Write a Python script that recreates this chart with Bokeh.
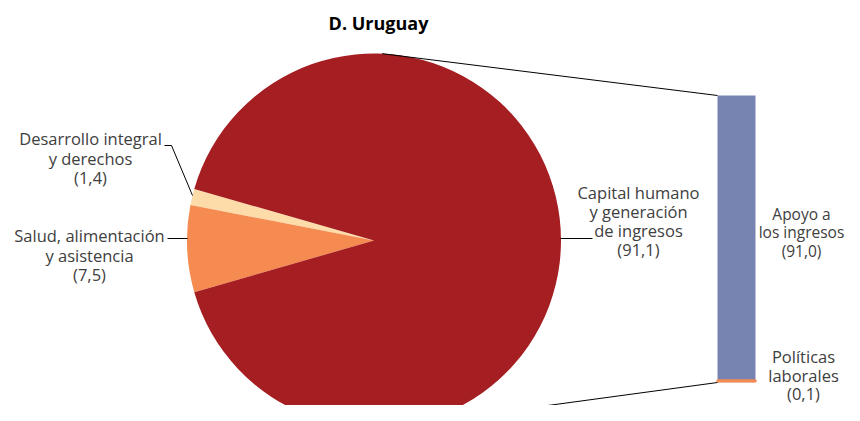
import math
from bokeh.plotting import figure
from bokeh.models import Range1d
from bokeh.core.properties import value
from bokeh.embed import file_html
from bokeh.resources import INLINE

# ---- data ----
pie_labels = ["Desarrollo integral\ny derechos", "Salud, alimentación\ny asistencia", "Capital humano\ny generación\nde ingresos"]
pie_values = [1.4, 7.5, 91.1]
pie_colors = ["#FDDCA9", "#F58B50", "#A51E22"]

bar_labels = ["Políticas\nlaborales", "Apoyo a\nlos ingresos"]
bar_values = [0.1, 91.0]
bar_colors = ["#F58B50", "#7784B2"]

title_text = "D. Uruguay"

def fmt(v):
    return "(" + ("%.1f" % v).replace(".", ",") + ")"

# ---- layout (image pixel space: data x = image x, data y = 421 - image y) ----
W, H = 844, 405
p = figure(width=W, height=H, output_backend="svg", toolbar_location=None,
           x_range=Range1d(0, W), y_range=Range1d(421 - H, 421),
           x_axis_type=None, y_axis_type=None, min_border=0)
p.outline_line_color = None
p.grid.visible = False

FONT = value("Open Sans")
LABEL_COLOR = "#404040"

cx, cy, r = 373.5, 421 - 240, 187
offset = 164.0
total = sum(pie_values)
starts, ends = [], []
acc = offset
for v in pie_values:
    starts.append(math.radians(acc))
    acc += v / total * 360.0
    ends.append(math.radians(acc))
p.wedge(x=cx, y=cy, radius=r, start_angle=starts, end_angle=ends,
        fill_color=pie_colors, line_color=None, direction="anticlock")

# ---- bar ----
bx0, bx1 = 717, 755
bbottom = 421 - 382
scale = (382 - 95) / sum(bar_values)
bots, tops = [], []
acc = bbottom
for v in bar_values:
    bots.append(acc)
    acc += v * scale
    tops.append(acc)
p.quad(left=bx0, right=bx1, bottom=bots[1:], top=tops[1:], fill_color=bar_colors[1], line_color=None)
p.quad(left=bx0, right=bx1, bottom=[bots[0] + 1.5], top=[tops[0] + 1.5],
       fill_color=bar_colors[0], line_color=bar_colors[0], line_width=3)

# ---- connector lines ----
a_top, a_bot = math.radians(87.5), math.radians(-80)
p.line([cx + r * math.cos(a_top), bx0], [cy + r * math.sin(a_top), tops[-1]], line_color="black", line_width=1)
p.line([cx + r * math.cos(a_bot), bx0], [cy + r * math.sin(a_bot), bbottom], line_color="black", line_width=1)

# ---- leader lines ----
p.line([164, 171, 192], [421 - 145, 421 - 145, 421 - 195], line_color="black", line_width=1)
p.line([167, 187], [421 - 238, 421 - 238], line_color="black", line_width=1)
p.line([560, 592], [421 - 238, 421 - 238], line_color="black", line_width=1)

# ---- labels ----
def label(x, ytop, txt, spacing=19.5, size="16.5px"):
    lines = txt.split("\n")
    ys = [421 - (ytop + i * spacing) for i in range(len(lines))]
    p.text(x=[x] * len(lines), y=ys, text=lines, text_align="center", text_baseline="middle",
           text_font=FONT, text_font_size=size, text_color=LABEL_COLOR)

label(90, 138, pie_labels[0] + "\n" + fmt(pie_values[0]))
label(89, 235, pie_labels[1] + "\n" + fmt(pie_values[1]))
label(638, 192, pie_labels[2] + "\n" + fmt(pie_values[2]), spacing=19)
label(801, 213, bar_labels[1] + "\n" + fmt(bar_values[1]), spacing=18.5, size="15.5px")
label(803, 356, bar_labels[0] + "\n" + fmt(bar_values[0]), spacing=18.5, size="16.5px")

p.text(x=[378], y=[421 - 22], text=[title_text], text_align="center", text_baseline="middle",
       text_font=FONT, text_font_size="18px", text_font_style="bold", text_color="black")

open("out.html", "w").write(file_html(p, INLINE))
